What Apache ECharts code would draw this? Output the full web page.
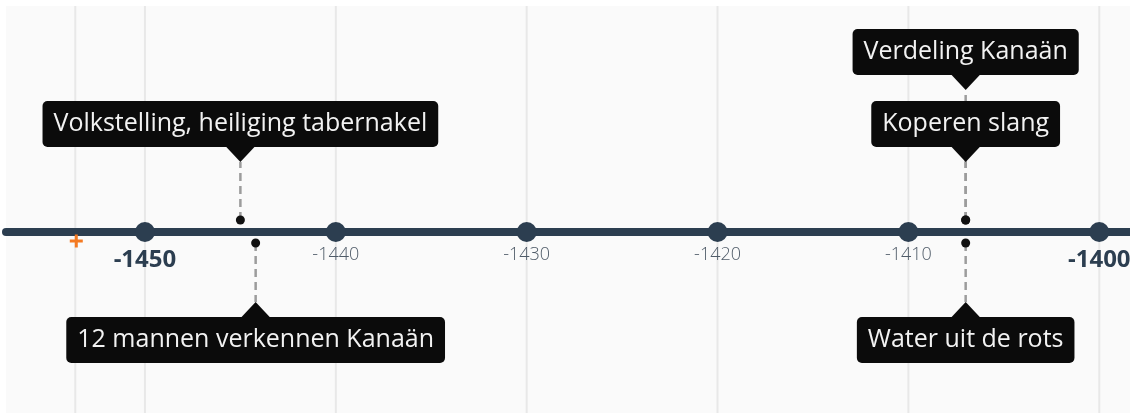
<!DOCTYPE html>
<html><head><meta charset="utf-8">
<script src="https://cdn.jsdelivr.net/npm/echarts@6/dist/echarts.min.js"></script>
<style>html,body{margin:0;padding:0;background:#fff}#c{width:1130px;height:413px}</style>
</head><body><div id="c"></div>
<script>
// ---- data ----
const tickYears = [-1450, -1440, -1430, -1420, -1410, -1400];
const majorYears = [-1450, -1400];
const eventNames = ['Verdeling Kanaän', 'Volkstelling, heiliging tabernakel', '12 mannen verkennen Kanaän', 'Koperen slang', 'Water uit de rots'];
const eventYears = [-1407.0, -1445.0, -1444.2, -1407.0, -1407.0];
const eventRows = [2, 1, -1, 1, -1];
const markerYear = -1453.65;
const axisRange = [-1457.28, -1398.39];

// ---- style ----
const FONT = '"Open Sans", "Noto Sans", sans-serif';
const AXIS_COLOR = '#2c3e50';
const rowTip = { '1': 70, '2': 142, '-1': 70 };
const ARROW_H = 16, ARROW_HALF = 15;

const chart = echarts.init(document.getElementById('c'), null, { renderer: 'canvas' });

const gridSeries = {
  type: 'custom', z: 0, silent: true,
  data: tickYears.concat([markerYear]).map(v => [v, 0]),
  renderItem(params, api) {
    const p = api.coord([api.value(0), 0]);
    const cs = params.coordSys;
    return { type: 'line', shape: { x1: p[0], y1: cs.y, x2: p[0], y2: cs.y + cs.height },
      style: { stroke: '#e8e8e8', lineWidth: 2 } };
  }
};

const tickLabelSeries = {
  type: 'custom', z: 1, silent: true,
  data: tickYears.map(v => [v, 0]),
  renderItem(params, api) {
    const v = api.value(0);
    const p = api.coord([v, 0]);
    const major = majorYears.includes(v);
    return { type: 'text', x: p[0], y: p[1] + (major ? 28 : 23),
      style: { text: String(v), fill: major ? AXIS_COLOR : '#4f5b68',
        font: (major ? 'bold 24px ' : '300 18px ') + FONT,
        align: 'center', verticalAlign: 'middle' } };
  }
};

const tickSeries = {
  type: 'scatter', z: 3, silent: true,
  symbolSize: 20,
  itemStyle: { color: AXIS_COLOR, opacity: 1 },
  data: tickYears.map(v => [v, 0])
};

const markerSeries = {
  type: 'custom', z: 3, silent: true,
  data: [[markerYear, 0]],
  renderItem(params, api) {
    const p = api.coord([api.value(0), 0]);
    const cx = p[0] + 1, cy = p[1] + 9;
    return { type: 'group', children: [
      { type: 'rect', shape: { x: cx - 6.5, y: cy - 1.5, width: 13, height: 3 }, style: { fill: '#f47a22' } },
      { type: 'rect', shape: { x: cx - 1.5, y: cy - 6.5, width: 3, height: 13 }, style: { fill: '#f47a22' } }
    ] };
  }
};

const eventSeries = {
  type: 'custom', z: 4, silent: true,
  data: eventYears.map((y, i) => [y, eventRows[i]]),
  renderItem(params, api) {
    const i = params.dataIndex;
    const row = api.value(1);
    const up = row > 0;
    const p = api.coord([api.value(0), 0]);
    const x = p[0];
    const dotY = up ? p[1] - 12 : p[1] + 11;
    const tipY = up ? p[1] - rowTip[String(row)] : p[1] + rowTip[String(row)];
    const baseY = up ? tipY - ARROW_H : tipY + ARROW_H;
    return { type: 'group', children: [
      { type: 'line', z2: 1, shape: { x1: x, y1: dotY, x2: x, y2: tipY },
        style: { stroke: '#9c9c9c', lineWidth: 2.5, lineDash: [8, 5] } },
      { type: 'circle', z2: 2, shape: { cx: x, cy: dotY, r: 4.5 }, style: { fill: '#111' } },
      { type: 'polygon', z2: 10, shape: { points: [[x, tipY], [x - ARROW_HALF, baseY], [x + ARROW_HALF, baseY]] },
        style: { fill: '#0b0b0b' } },
      { type: 'text', z2: 11, x: x, y: up ? baseY + 1 : baseY - 1,
        style: { text: eventNames[i], font: '25px ' + FONT, fill: '#f2f2f2',
          align: 'center', verticalAlign: up ? 'bottom' : 'top',
          backgroundColor: '#0b0b0b', padding: [10, 11, 10, 11], borderRadius: 5, lineHeight: 26 } }
    ] };
  }
};

chart.setOption({
  animation: false,
  backgroundColor: '#ffffff',
  grid: { left: 6, right: 0, top: 6, bottom: 0, show: true, backgroundColor: '#fafafa', borderWidth: 0,
          containLabel: false, outerBoundsMode: 'none' },
  xAxis: {
    type: 'value', min: axisRange[0], max: axisRange[1], z: 2,
    axisLine: { onZero: true, lineStyle: { color: AXIS_COLOR, width: 8 } },
    axisTick: { show: false },
    splitLine: { show: false },
    axisLabel: { show: false }
  },
  yAxis: { type: 'value', min: -181, max: 226, show: false, splitLine: { show: false } },
  series: [gridSeries, tickLabelSeries, tickSeries, markerSeries, eventSeries]
});
</script></body></html>
